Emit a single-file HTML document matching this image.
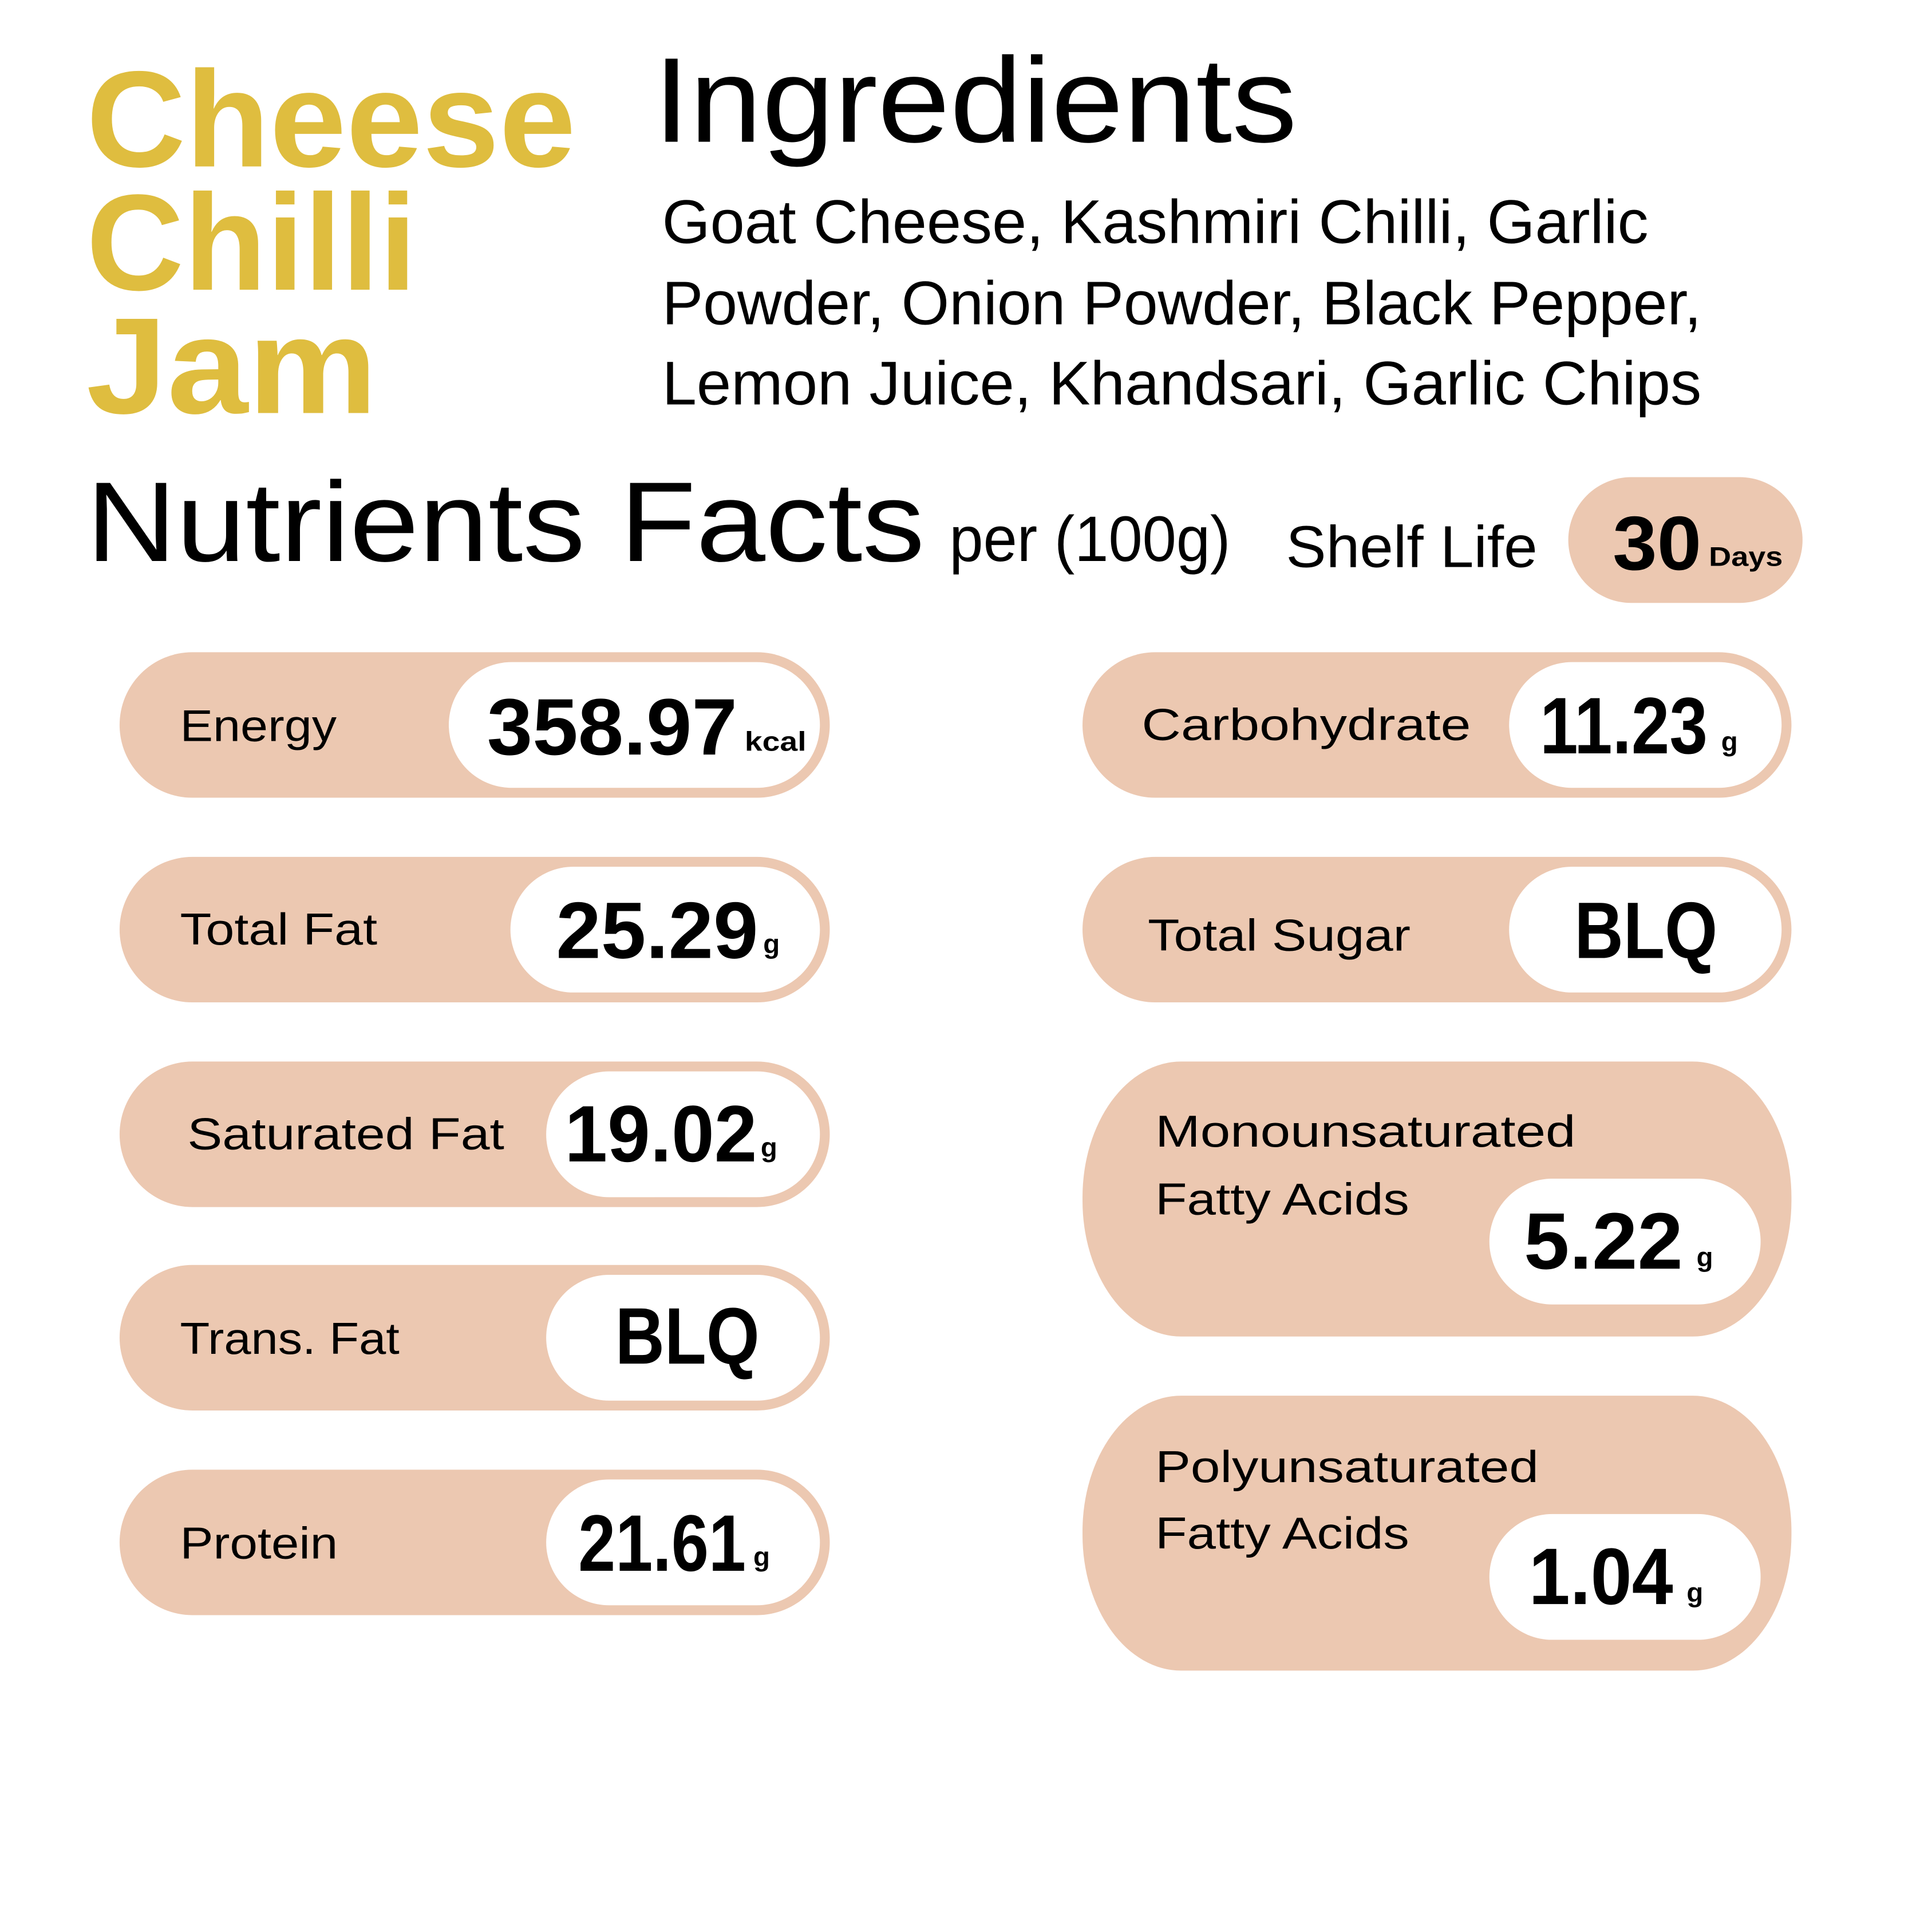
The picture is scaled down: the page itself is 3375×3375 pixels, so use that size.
<!DOCTYPE html>
<html><head><meta charset="utf-8"><style>html,body{margin:0;padding:0;background:#fff}svg{display:block}</style></head>
<body>
<svg width="3375" height="3375" viewBox="0 0 1567 1567" xmlns="http://www.w3.org/2000/svg" font-family="Liberation Sans, sans-serif">
<rect width="1567" height="1567" fill="#fff"/>
<g fill="#DFBD3F" font-weight="bold" font-size="111">
<text x="70" y="135" textLength="397" lengthAdjust="spacingAndGlyphs">Cheese</text>
<text x="70" y="235" textLength="268" lengthAdjust="spacingAndGlyphs">Chilli</text>
<text x="70" y="335" textLength="236" lengthAdjust="spacingAndGlyphs">Jam</text>
</g>
<g fill="#000">
<text x="530" y="115" font-size="98" textLength="522" lengthAdjust="spacingAndGlyphs">Ingredients</text>
<text x="537" y="197" font-size="50" textLength="800" lengthAdjust="spacingAndGlyphs">Goat Cheese, Kashmiri Chilli, Garlic</text>
<text x="537" y="263" font-size="50" textLength="843" lengthAdjust="spacingAndGlyphs">Powder, Onion Powder, Black Pepper,</text>
<text x="537" y="328" font-size="50" textLength="843" lengthAdjust="spacingAndGlyphs">Lemon Juice, Khandsari, Garlic Chips</text>
<text x="70" y="455" font-size="92" textLength="680" lengthAdjust="spacingAndGlyphs">Nutrients Facts</text>
<text x="770" y="455" font-size="52" textLength="228" lengthAdjust="spacingAndGlyphs">per (100g)</text>
<text x="1043" y="460" font-size="48" textLength="204" lengthAdjust="spacingAndGlyphs">Shelf Life</text>
</g>
<rect x="1272" y="387" width="190" height="102" rx="51" fill="#ECC8B1"/>
<text x="1308" y="462" font-size="62" font-weight="bold" textLength="72" lengthAdjust="spacingAndGlyphs">30</text>
<text x="1386" y="459" font-size="22" font-weight="bold" textLength="60" lengthAdjust="spacingAndGlyphs">Days</text>

<g fill="#ECC8B1">
<rect x="97" y="529" width="576" height="118" rx="59"/>
<rect x="97" y="695" width="576" height="118" rx="59"/>
<rect x="97" y="861" width="576" height="118" rx="59"/>
<rect x="97" y="1026" width="576" height="118" rx="59"/>
<rect x="97" y="1192" width="576" height="118" rx="59"/>
<rect x="878" y="529" width="575" height="118" rx="59"/>
<rect x="878" y="695" width="575" height="118" rx="59"/>
<rect x="878" y="861" width="575" height="223" rx="80" ry="110"/>
<rect x="878" y="1132" width="575" height="223" rx="80" ry="110"/>
</g>
<g fill="#fff">
<rect x="364" y="537" width="301" height="102" rx="51"/>
<rect x="414" y="703" width="251" height="102" rx="51"/>
<rect x="443" y="869" width="222" height="102" rx="51"/>
<rect x="443" y="1034" width="222" height="102" rx="51"/>
<rect x="443" y="1200" width="222" height="102" rx="51"/>
<rect x="1224" y="537" width="221" height="102" rx="51"/>
<rect x="1224" y="703" width="221" height="102" rx="51"/>
<rect x="1208" y="956" width="220" height="102" rx="51"/>
<rect x="1208" y="1228" width="220" height="102" rx="51"/>
</g>
<g font-size="36" fill="#000">
<text x="146" y="601" textLength="127" lengthAdjust="spacingAndGlyphs">Energy</text>
<text x="146" y="766" textLength="160" lengthAdjust="spacingAndGlyphs">Total Fat</text>
<text x="152" y="932" textLength="257" lengthAdjust="spacingAndGlyphs">Saturated Fat</text>
<text x="146" y="1098" textLength="178" lengthAdjust="spacingAndGlyphs">Trans. Fat</text>
<text x="146" y="1264" textLength="128" lengthAdjust="spacingAndGlyphs">Protein</text>
<text x="926" y="600" textLength="267" lengthAdjust="spacingAndGlyphs">Carbohydrate</text>
<text x="931" y="771" textLength="213" lengthAdjust="spacingAndGlyphs">Total Sugar</text>
<text x="937" y="930" textLength="341" lengthAdjust="spacingAndGlyphs">Monounsaturated</text>
<text x="937" y="985" textLength="206" lengthAdjust="spacingAndGlyphs">Fatty Acids</text>
<text x="937" y="1202" textLength="311" lengthAdjust="spacingAndGlyphs">Polyunsaturated</text>
<text x="937" y="1256" textLength="206" lengthAdjust="spacingAndGlyphs">Fatty Acids</text>
</g>
<g font-size="65" font-weight="bold" fill="#000">
<text x="395" y="612" textLength="203" lengthAdjust="spacingAndGlyphs">358.97</text>
<text x="451" y="777" textLength="164" lengthAdjust="spacingAndGlyphs">25.29</text>
<text x="458" y="942" textLength="156" lengthAdjust="spacingAndGlyphs">19.02</text>
<text x="499" y="1106" textLength="117" lengthAdjust="spacingAndGlyphs">BLQ</text>
<text x="469" y="1274" textLength="136" lengthAdjust="spacingAndGlyphs">21.61</text>
<text x="1249" y="611" textLength="136" lengthAdjust="spacingAndGlyphs">11.23</text>
<text x="1277" y="777" textLength="116" lengthAdjust="spacingAndGlyphs">BLQ</text>
<text x="1236" y="1029" textLength="129" lengthAdjust="spacingAndGlyphs">5.22</text>
<text x="1240" y="1301" textLength="117" lengthAdjust="spacingAndGlyphs">1.04</text>
</g>
<g font-size="22" font-weight="bold" fill="#000">
<text x="604" y="609" textLength="50" lengthAdjust="spacingAndGlyphs">kcal</text>
<text x="619" y="773">g</text>
<text x="617" y="938">g</text>
<text x="611" y="1270">g</text>
<text x="1396" y="609">g</text>
<text x="1376" y="1027">g</text>
<text x="1368" y="1299">g</text>
</g>
</svg>
</body></html>
